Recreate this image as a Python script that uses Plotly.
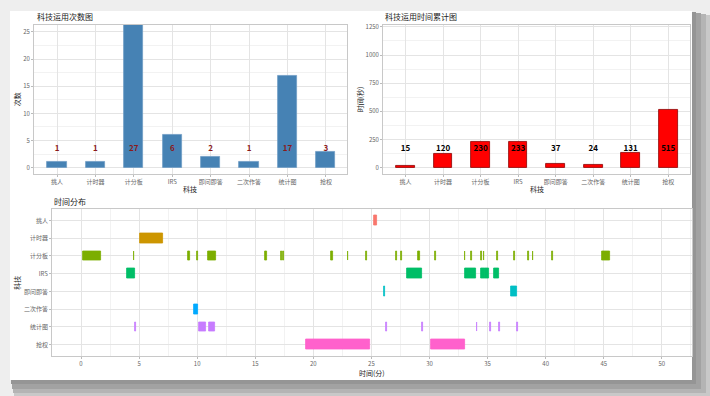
import plotly.graph_objects as go

W, H = 710, 396

# ---------------- data ----------------
categories = ["挑人", "计时器", "计分板", "IRS", "即问即答", "二次作答", "统计图", "抢权"]
usage_counts = [1, 1, 27, 6, 2, 1, 17, 3]
usage_seconds = [15, 120, 230, 233, 37, 24, 131, 515]

count_ticks = [0, 5, 10, 15, 20, 25]
time_ticks = [0, 250, 500, 750, 1000, 1250]
minute_ticks = [0, 5, 10, 15, 20, 25, 30, 35, 40, 45, 50]

# time distribution segments (minutes)
seg_category = (
    ["挑人"]
    + ["计时器"]
    + ["计分板"] * 25
    + ["IRS"] * 6
    + ["即问即答"] * 2
    + ["二次作答"]
    + ["统计图"] * 9
    + ["抢权"] * 2
)
seg_start = (
    [25.24]
    + [5.10]
    + [0.20, 4.53, 9.22, 9.98, 10.90, 15.80, 17.25, 17.39, 21.50, 22.96, 24.53,
       27.15, 27.58, 29.03, 30.51, 33.03, 33.57, 34.46, 34.66, 35.78, 37.30,
       38.48, 38.90, 40.54, 44.89]
    + [3.98, 28.03, 33.08, 34.40, 34.80, 35.57]
    + [26.08, 36.98]
    + [9.70]
    + [4.64, 10.13, 11.04, 26.25, 29.33, 34.05, 35.17, 36.00, 37.52]
    + [19.33, 30.12]
)
seg_end = (
    [25.50]
    + [7.08]
    + [1.70, 4.59, 9.40, 10.03, 11.65, 16.00, 17.30, 17.44, 21.65, 23.01, 24.63,
       27.20, 27.63, 29.22, 30.56, 33.08, 33.67, 34.51, 34.71, 35.88, 37.40,
       38.53, 38.95, 40.59, 45.52]
    + [4.65, 29.32, 34.00, 34.74, 35.14, 36.00]
    + [26.18, 37.50]
    + [10.10]
    + [4.70, 10.78, 11.56, 26.30, 29.41, 34.12, 35.27, 36.06, 37.58]
    + [24.90, 33.07]
)

# ---------------- styling ----------------
FONT = "Noto Sans CJK SC, Noto Sans, sans-serif"
palette = ["#F8766D", "#CD9600", "#7CAE00", "#00BE67", "#00BFC4", "#00A9FF", "#C77CFF", "#FF61CC"]
cat_color = dict(zip(categories, palette))
GRID = "#e4e4e4"
MINOR = "#f2f2f2"
BORDER = "#c8c8c8"
TICKC = "#666666"


def px_x(px):
    return px / W


def px_y(py):
    return 1 - py / H


fig = go.Figure()

# top-left: usage counts
fig.add_trace(go.Bar(
    x=categories, y=usage_counts, width=0.5,
    marker=dict(color="#4682B4", line=dict(color="#6f9cc4", width=0.8)),
    xaxis="x", yaxis="y", showlegend=False,
))
fig.add_trace(go.Scatter(
    x=categories, y=[3.5] * len(categories), mode="text",
    text=[str(v) for v in usage_counts],
    textfont=dict(family=FONT, size=8, color="#8B1A1A", weight="bold"),
    xaxis="x", yaxis="y", showlegend=False,
))

# top-right: usage seconds
fig.add_trace(go.Bar(
    x=categories, y=usage_seconds, width=0.5,
    marker=dict(color="#FF0000", line=dict(color="#8B0000", width=0.8)),
    xaxis="x2", yaxis="y2", showlegend=False,
))
fig.add_trace(go.Scatter(
    x=categories, y=[167] * len(categories), mode="text",
    text=[str(v) for v in usage_seconds],
    textfont=dict(family=FONT, size=8, color="#000000", weight="bold"),
    xaxis="x2", yaxis="y2", showlegend=False,
))

# bottom: time distribution
fig.add_trace(go.Bar(
    y=seg_category,
    x=[e - s for s, e in zip(seg_start, seg_end)],
    base=seg_start,
    orientation="h", width=0.55,
    marker=dict(color=[cat_color[c] for c in seg_category],
                line=dict(color=[cat_color[c] for c in seg_category], width=0.8)),
    xaxis="x3", yaxis="y3", showlegend=False,
))

axis_common = dict(
    showgrid=True, gridcolor=GRID, gridwidth=0.6,
    showline=True, mirror=True, linecolor=BORDER, linewidth=0.8,
    ticks="outside", ticklen=2, tickcolor="#bbbbbb",
    tickfont=dict(family=FONT, size=6, color=TICKC),
    zeroline=False, fixedrange=True,
)

L_X0, L_X1 = 34, 347
R_X0, R_X1 = 383, 690
T_Y0, T_Y1 = 22, 172
B_X0, B_X1 = 52, 692
B_Y0, B_Y1 = 208, 356

fig.update_layout(
    width=W, height=H,
    margin=dict(l=0, r=0, t=0, b=0),
    paper_bgcolor="#eeeeee",
    plot_bgcolor="#ffffff",
    barmode="overlay",
    bargap=0,
    font=dict(family=FONT),
    xaxis=dict(axis_common, domain=[px_x(L_X0), px_x(L_X1)], anchor="y",
               type="category", categoryorder="array", categoryarray=categories,
               range=[-0.6, 7.55]),
    yaxis=dict(axis_common, domain=[px_y(T_Y1), px_y(T_Y0)], anchor="x",
               range=[-1.1, 26.3], tickvals=count_ticks,
               minor=dict(showgrid=True, gridcolor=MINOR, dtick=2.5, tick0=0)),
    xaxis2=dict(axis_common, domain=[px_x(R_X0), px_x(R_X1)], anchor="y2",
                type="category", categoryorder="array", categoryarray=categories,
                range=[-0.6, 7.58]),
    yaxis2=dict(axis_common, domain=[px_y(T_Y1), px_y(T_Y0)], anchor="x2",
                range=[-53, 1268], tickvals=time_ticks,
                minor=dict(showgrid=True, gridcolor=MINOR, dtick=125, tick0=0)),
    xaxis3=dict(axis_common, domain=[px_x(B_X0), px_x(B_X1)], anchor="y3",
                range=[-2.5, 52.6], tickvals=minute_ticks,
                minor=dict(showgrid=True, gridcolor=MINOR, dtick=2.5, tick0=0)),
    yaxis3=dict(axis_common, domain=[px_y(B_Y1), px_y(B_Y0)], anchor="x3",
                type="category", categoryorder="array", categoryarray=categories,
                range=[7.65, -0.62]),
)

# card + shadow
shapes = []
shadow_layers = [
    (14, 12, 710, 396, "#c8c8c8"),
    (13, 11, 706, 393, "#b4b4b4"),
    (12, 10, 701, 389, "#a2a2a2"),
    (11, 9, 696, 384, "#959595"),
]
for x0, y0, x1, y1, col in shadow_layers:
    shapes.append(dict(type="rect", xref="paper", yref="paper", layer="below",
                       x0=px_x(x0), x1=px_x(x1), y0=px_y(y1), y1=px_y(y0),
                       fillcolor=col, line=dict(width=0)))
shapes.append(dict(type="rect", xref="paper", yref="paper", layer="below",
                   x0=px_x(10), x1=px_x(692), y0=px_y(380), y1=px_y(8),
                   fillcolor="#ffffff", line=dict(width=0)))
fig.update_layout(shapes=shapes)


def ann(text, x, y, size, color="#222222", xanchor="center", angle=0):
    fig.add_annotation(text=text, x=px_x(x), y=px_y(y), xref="paper", yref="paper",
                       xanchor=xanchor, yanchor="middle", showarrow=False, textangle=angle,
                       font=dict(family=FONT, size=size, color=color))


ann("科技运用次数图", 35, 14, 8, xanchor="left")
ann("科技运用时间累计图", 383, 14, 8, xanchor="left")
ann("时间分布", 52, 200, 8, xanchor="left")
ann("次数", 17, 97, 7, angle=-90)
ann("时间(秒)", 360, 97, 7, angle=-90)
ann("科技", (L_X0 + L_X1) / 2, 187, 7)
ann("科技", (R_X0 + R_X1) / 2, 187, 7)
ann("科技", 17, 282, 7, angle=-90)
ann("时间(分)", (B_X0 + B_X1) / 2, 373, 7)

fig.write_html("out.html", config={"displayModeBar": False},
               post_script="document.body.style.margin='0';")
